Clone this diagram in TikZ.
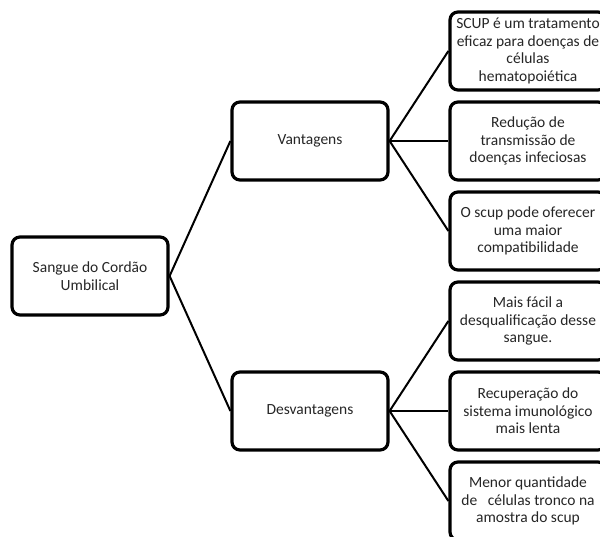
\documentclass[tikz,border=0pt]{standalone}
\usepackage{fontspec}
\setmainfont{Carlito}
\begin{document}
\begin{tikzpicture}[x=1pt,y=-1pt,
  box/.style={draw=black,line width=3.2pt,rounded corners=8pt,minimum width=156pt,minimum height=78pt,inner sep=0pt,align=center,text=black!85,font=\fontsize{15.5}{17.6}\selectfont,fill=white},
  link/.style={draw=black,line width=2pt}]
\useasboundingbox (0,0) rectangle (600,537);
\clip (0,0) rectangle (600,537);
\node[box] (root) at (90,276) {Sangue do Cordão\\Umbilical};
\node[box] (van) at (310,141) {Vantagens};
\node[box] (des) at (310,411) {Desvantagens};
\node[box] (v1) at (528,51) {SCUP é um tratamento\\eficaz para doenças de\\células\\hematopoiética};
\node[box] (v2) at (528,141) {Redução de\\transmissão de\\doenças infeciosas};
\node[box] (v3) at (528,231) {O scup pode oferecer\\uma maior\\compatibilidade};
\node[box] (d1) at (528,321) {Mais fácil a\\desqualificação desse\\sangue.};
\node[box] (d2) at (528,411) {Recuperação do\\sistema imunológico\\mais lenta};
\node[box] (d3) at (528,501) {Menor quantidade\\de\ \ \ células tronco na\\amostra do scup};
\begin{scope}[on background layer/.try]
\end{scope}
\draw[link] (root.east) -- (van.west);
\draw[link] (root.east) -- (des.west);
\draw[link] (van.east) -- (v1.west);
\draw[link] (van.east) -- (v2.west);
\draw[link] (van.east) -- (v3.west);
\draw[link] (des.east) -- (d1.west);
\draw[link] (des.east) -- (d2.west);
\draw[link] (des.east) -- (d3.west);
\end{tikzpicture}
\end{document}
